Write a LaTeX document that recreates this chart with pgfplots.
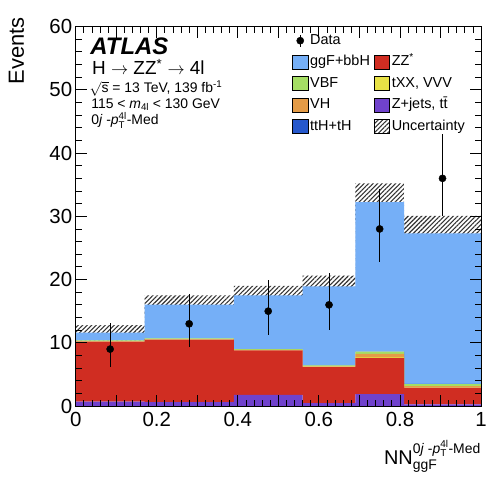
\documentclass[border=0pt]{standalone}
\usepackage{fontspec}
\setmainfont{Liberation Sans}
\usepackage{amsmath}
\usepackage{pgfplots}
\pgfplotsset{compat=1.18}
\usepgfplotslibrary{fillbetween}
\usetikzlibrary{patterns.meta}

\definecolor{cggf}{RGB}{117,175,247}
\definecolor{czz}{RGB}{208,45,34}
\definecolor{cvbf}{RGB}{165,222,100}
\definecolor{ctxx}{RGB}{232,226,70}
\definecolor{cvh}{RGB}{228,155,70}
\definecolor{czj}{RGB}{112,66,204}
\definecolor{ctth}{RGB}{38,88,204}

\pgfplotsset{
  common/.style={
    scale only axis, width=407pt, height=381pt,
    at={(76pt,74.3pt)}, anchor=south west,
    xmin=0, xmax=1, ymin=0, ymax=60,
  },
  band/.style={pattern={Lines[angle=45,distance=3.2pt,line width=1.1pt]}, pattern color=black!80},
  boxleg/.style={legend image code/.code={\fill[##1] (0pt,-7pt) rectangle (15.5pt,7pt);}},
}

\begin{document}
\begin{tikzpicture}
\path (0,0) rectangle (490pt,482pt);

% stacked backgrounds, bottom to top
\begin{axis}[common, hide axis, stack plots=y, const plot mark left]
\addplot[draw=none, fill=czj] coordinates {(0,0.7) (0.17,0.6) (0.39,1.75) (0.56,0.45) (0.69,1.9) (0.81,0.25) (1,0.25)} \closedcycle;
\addplot[draw=none, fill=czz] coordinates {(0,9.5) (0.17,9.9) (0.39,7.05) (0.56,5.75) (0.69,5.7) (0.81,2.65) (1,2.65)} \closedcycle;
\addplot[draw=none, fill=ctxx] coordinates {(0,0.03) (0.17,0.03) (0.39,0.03) (0.56,0.03) (0.69,0.15) (0.81,0.08) (1,0.08)} \closedcycle;
\addplot[draw=none, fill=cvh] coordinates {(0,0.04) (0.17,0.04) (0.39,0.05) (0.56,0.05) (0.69,0.5) (0.81,0.15) (1,0.15)} \closedcycle;
\addplot[draw=none, fill=cvbf] coordinates {(0,0.1) (0.17,0.12) (0.39,0.12) (0.56,0.16) (0.69,0.35) (0.81,0.35) (1,0.35)} \closedcycle;
\addplot[draw=none, fill=ctth] coordinates {(0,0.01) (0.17,0.01) (0.39,0.01) (0.56,0.01) (0.69,0.01) (0.81,0.01) (1,0.01)} \closedcycle;
\addplot[draw=none, fill=cggf] coordinates {(0,1.22) (0.17,5.35) (0.39,8.49) (0.56,12.45) (0.69,23.64) (0.81,23.81) (1,23.81)} \closedcycle;
\end{axis}

\begin{axis}[common, axis on top,
  axis line style={black, line width=0.9pt},
  every tick/.style={black, line width=0.8pt},
  major tick length=11pt, minor tick length=6pt,
  xtick={0,0.1,0.2,0.3,0.4,0.5,0.6,0.7,0.8,0.9,1},
  xticklabels={0,,0.2,,0.4,,0.6,,0.8,,1},
  ytick={0,10,20,30,40,50,60},
  minor tick num=4,
  tick label style={font=\fontsize{20.5}{24}\selectfont},
  xticklabel style={yshift=-3pt},
  /pgf/number format/assume math mode=true,
  ylabel={Events},
  ylabel style={font=\fontsize{22}{26}\selectfont, at={(axis description cs:-0.146,1.0255)}, anchor=east, inner sep=0pt},
  xlabel={NN$_{\text{ggF}}^{\text{0\textit{j} -\textit{p}}_{\text{T}}^{\text{4l}}\text{-Med}}$},
  xlabel style={font=\fontsize{20}{24}\selectfont, at={(axis description cs:1,-0.153)}, anchor=base east, inner sep=0pt},
  legend columns=2, legend cell align=left,
  legend style={at={(0.534,0.981)}, anchor=north west, draw=none, fill=none, inner sep=0pt,
    font=\fontsize{14.5}{17}\selectfont, row sep=7.2pt,
    nodes={inner xsep=2pt, inner ysep=0pt, text height=10.5pt, text depth=3pt},
    /tikz/every even column/.append style={column sep=2pt}},
]
\addplot[draw=none, const plot mark left, name path=hi, forget plot] coordinates {(0,12.8) (0.17,17.5) (0.39,19.0) (0.56,20.6) (0.69,35.2) (0.81,30.05) (1,30.05)};
\addplot[draw=none, const plot mark left, name path=lo, forget plot] coordinates {(0,10.4) (0.17,14.6) (0.39,16.0) (0.56,17.2) (0.69,29.3) (0.81,24.55) (1,24.55)};
\addplot[band, draw=none, forget plot] fill between[of=hi and lo];

\addplot[only marks, mark=*, mark size=3.6pt, black, forget plot,
  error bars/.cd, y dir=both, y explicit, error mark=none,
  error bar style={line width=0.9pt, black}]
  coordinates {
  (0.085,9) += (0,4.1) -= (0,2.9)
  (0.28,13) += (0,4.7) -= (0,3.6)
  (0.475,15) += (0,4.9) -= (0,3.8)
  (0.625,16) += (0,5.1) -= (0,4.0)
  (0.75,28) += (0,6.3) -= (0,5.3)
  (0.905,36) += (0,7.0) -= (0,6.0)
  };

\addlegendimage{legend image code/.code={\draw[black,line width=0.9pt] (7.75pt,-6pt)--(7.75pt,6pt); \fill[black] (7.75pt,0pt) circle (3.6pt);}}
\addlegendentry{Data}
\addlegendimage{empty legend}
\addlegendentry{}
\addlegendimage{boxleg, fill=cggf}
\addlegendentry{ggF+bbH}
\addlegendimage{boxleg, fill=czz}
\addlegendentry{ZZ\textsuperscript{*}}
\addlegendimage{boxleg, fill=cvbf}
\addlegendentry{VBF}
\addlegendimage{boxleg, fill=ctxx}
\addlegendentry{tXX, VVV}
\addlegendimage{boxleg, fill=cvh}
\addlegendentry{VH}
\addlegendimage{boxleg, fill=czj}
\addlegendentry{Z+jets, t\={t}}
\addlegendimage{boxleg, fill=ctth}
\addlegendentry{ttH+tH}
\addlegendimage{boxleg, band}
\addlegendentry{Uncertainty}

\node[anchor=base west, font=\fontsize{24}{28}\selectfont\bfseries\itshape, inner sep=0pt] at (rel axis cs:0.036,0.926) {ATLAS};
\node[anchor=base west, font=\fontsize{19}{23}\selectfont, inner sep=0pt] at (rel axis cs:0.040,0.873) {H $\rightarrow$ ZZ\textsuperscript{*} $\rightarrow$ 4l};
\node[anchor=base west, font=\fontsize{14}{17}\selectfont, inner sep=0pt] at (rel axis cs:0.034,0.825) {$\sqrt{\text{s}}$ = 13 TeV, 139 fb\textsuperscript{-1}};
\node[anchor=base west, font=\fontsize{14}{17}\selectfont, inner sep=0pt] at (rel axis cs:0.038,0.784) {115 < \textit{m}\textsubscript{4l} < 130 GeV};
\node[anchor=base west, font=\fontsize{14}{17}\selectfont, inner sep=0pt] at (rel axis cs:0.038,0.742) {0\textit{j} -\textit{p}$^{\text{4l}}_{\text{T}}$-Med};
\end{axis}
\end{tikzpicture}
\end{document}
